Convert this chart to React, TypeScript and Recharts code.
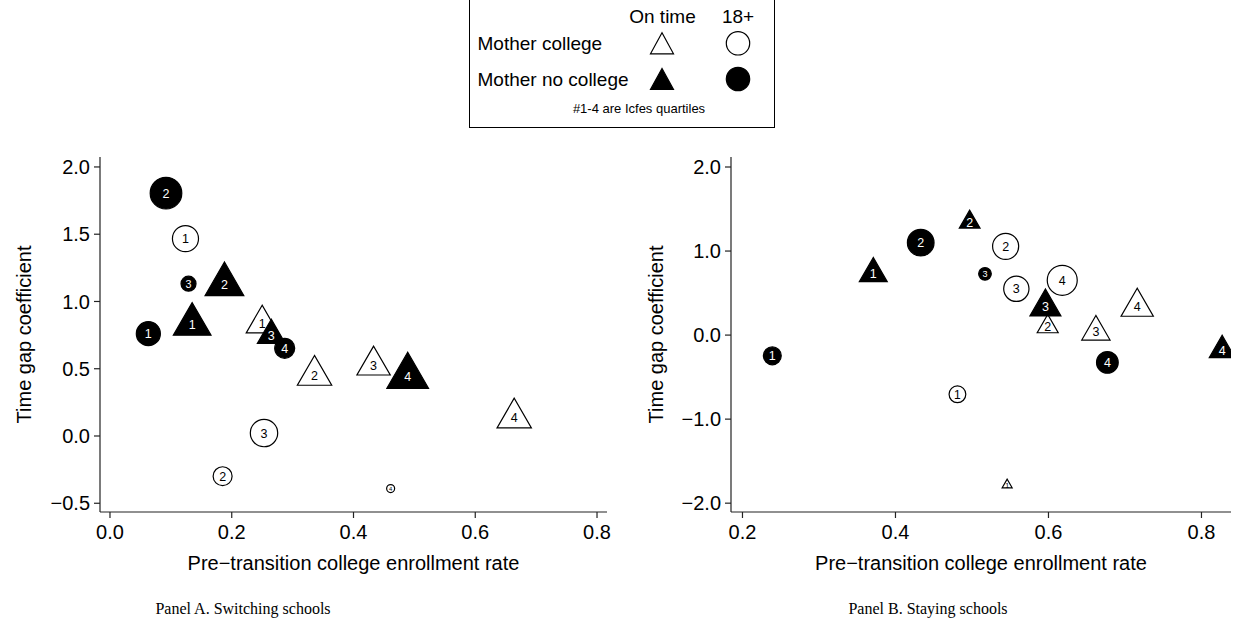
import React from 'react';
import { ScatterChart, Scatter, XAxis, YAxis } from 'recharts';

// ---------- DATA ----------
const quartiles = ['1', '2', '3', '4'];

// Panel A. Switching schools
const aCollegeOnTimeX = [0.25, 0.336, 0.433, 0.664];
const aCollegeOnTimeY = [0.835, 0.451, 0.525, 0.134];
const aCollegeOnTimeW = [10.2, 11.8, 11.1, 11.8];
const aNoCollegeOnTimeX = [0.135, 0.188, 0.265, 0.489];
const aNoCollegeOnTimeY = [0.83, 1.127, 0.748, 0.444];
const aNoCollegeOnTimeW = [14.2, 15.0, 7.8, 17.4];
const aCollegeLateX = [0.124, 0.185, 0.253, 0.461];
const aCollegeLateY = [1.467, -0.299, 0.022, -0.391];
const aCollegeLateW = [6.8, 3.6, 7.5, 0.64];
const aNoCollegeLateX = [0.063, 0.092, 0.129, 0.287];
const aNoCollegeLateY = [0.761, 1.805, 1.132, 0.652];
const aNoCollegeLateW = [5.8, 10.0, 2.25, 4.0];

// Panel B. Staying schools
const bCollegeOnTimeX = [0.546, 0.599, 0.662, 0.716];
const bCollegeOnTimeY = [-1.783, 0.1, 0.038, 0.335];
const bCollegeOnTimeW = [1.0, 4.4, 8.0, 10.4];
const bNoCollegeOnTimeX = [0.371, 0.497, 0.596, 0.827];
const bNoCollegeOnTimeY = [0.732, 1.344, 0.335, -0.179];
const bNoCollegeOnTimeW = [7.8, 4.3, 9.6, 6.6];
const bCollegeLateX = [0.481, 0.544, 0.558, 0.618];
const bCollegeLateY = [-0.705, 1.056, 0.551, 0.652];
const bCollegeLateW = [2.8, 6.8, 6.4, 9.0];
const bNoCollegeLateX = [0.239, 0.433, 0.517, 0.677];
const bNoCollegeLateY = [-0.247, 1.1, 0.729, -0.325];
const bNoCollegeLateW = [3.2, 7.1, 1.6, 4.7];

// Axis ticks
const aXTicks = [0, 0.2, 0.4, 0.6, 0.8];
const aYTicks = [-0.5, 0, 0.5, 1, 1.5, 2];
const bXTicks = [0.2, 0.4, 0.6, 0.8];
const bYTicks = [-2, -1, 0, 1, 2];

const xTitle = 'Pre\u2212transition college enrollment rate';
const yTitle = 'Time gap coefficient';

// ---------- helpers ----------
const build = (xs: number[], ys: number[], ws: number[]) =>
  xs.map((x, i) => ({ x, y: ys[i], w: ws[i], q: quartiles[i] }));

const SANS = '"Liberation Sans", Arial, Helvetica, sans-serif';
const SERIF = '"Liberation Serif", "Times New Roman", serif';

const fmt = (v: number) => (v < 0 ? '\u2212' + (-v).toFixed(1) : v.toFixed(1));

const makeShape = (kind: 'tri' | 'circ', filled: boolean) => (props: any) => {
  const { cx, cy, payload } = props;
  if (cx == null || cy == null) return <g />;
  const d = 10 * Math.sqrt(payload.w);
  const fs = Math.min(12.5, d * 0.72);
  const fill = filled ? '#000' : '#fff';
  const txt = filled ? '#fff' : '#000';
  let marker;
  if (kind === 'tri') {
    const h = d * 0.866;
    const pts = `${cx},${cy - (2 * h) / 3} ${cx - d / 2},${cy + h / 3} ${cx + d / 2},${cy + h / 3}`;
    marker = <polygon points={pts} fill={fill} stroke="#000" strokeWidth={1.2} strokeLinejoin="miter" />;
  } else {
    marker = <circle cx={cx} cy={cy} r={d / 2} fill={fill} stroke="#000" strokeWidth={1.2} />;
  }
  return (
    <g>
      {marker}
      <text
        x={cx}
        y={cy}
        dy="0.36em"
        textAnchor="middle"
        fontFamily={SANS}
        fontSize={fs}
        fill={txt}
      >
        {payload.q}
      </text>
    </g>
  );
};

const shapeWhiteTri = makeShape('tri', false);
const shapeBlackTri = makeShape('tri', true);
const shapeWhiteCirc = makeShape('circ', false);
const shapeBlackCirc = makeShape('circ', true);

const tickStyle = { fontSize: 20, fill: '#000', fontFamily: SANS };
const axisStroke = { stroke: '#222', strokeWidth: 1.2 };

interface PanelProps {
  left: number;
  width: number;
  yAxisWidth: number;
  right: number;
  xDomain: [number, number];
  yDomain: [number, number];
  xTicks: number[];
  yTicks: number[];
  series: { data: any[]; shape: any; name: string }[];
}

const Panel = (p: PanelProps) => (
  <div style={{ position: 'absolute', left: p.left, top: 0 }}>
    <ScatterChart
      width={p.width}
      height={636}
      margin={{ top: 157, right: p.right, bottom: 0, left: 0 }}
    >
      <XAxis
        type="number"
        dataKey="x"
        domain={p.xDomain}
        ticks={p.xTicks}
        allowDataOverflow
        height={124}
        tickFormatter={fmt}
        tick={tickStyle}
        tickSize={6}
        tickMargin={7}
        axisLine={axisStroke}
        tickLine={axisStroke}
      />
      <YAxis
        type="number"
        dataKey="y"
        domain={p.yDomain}
        ticks={p.yTicks}
        allowDataOverflow
        width={p.yAxisWidth}
        tickFormatter={fmt}
        tick={tickStyle}
        tickSize={6}
        tickMargin={4}
        axisLine={axisStroke}
        tickLine={axisStroke}
      />
      {p.series.map((s) => (
        <Scatter
          key={s.name}
          name={s.name}
          data={s.data}
          shape={s.shape}
          isAnimationActive={false}
        />
      ))}
    </ScatterChart>
  </div>
);

export default function App() {
  const aSeries = [
    { name: 'College on time', data: build(aCollegeOnTimeX, aCollegeOnTimeY, aCollegeOnTimeW), shape: shapeWhiteTri },
    { name: 'No college on time', data: build(aNoCollegeOnTimeX, aNoCollegeOnTimeY, aNoCollegeOnTimeW), shape: shapeBlackTri },
    { name: 'College 18+', data: build(aCollegeLateX, aCollegeLateY, aCollegeLateW), shape: shapeWhiteCirc },
    { name: 'No college 18+', data: build(aNoCollegeLateX, aNoCollegeLateY, aNoCollegeLateW), shape: shapeBlackCirc },
  ];
  const bSeries = [
    { name: 'College on time', data: build(bCollegeOnTimeX, bCollegeOnTimeY, bCollegeOnTimeW), shape: shapeWhiteTri },
    { name: 'No college on time', data: build(bNoCollegeOnTimeX, bNoCollegeOnTimeY, bNoCollegeOnTimeW), shape: shapeBlackTri },
    { name: 'College 18+', data: build(bCollegeLateX, bCollegeLateY, bCollegeLateW), shape: shapeWhiteCirc },
    { name: 'No college 18+', data: build(bNoCollegeLateX, bNoCollegeLateY, bNoCollegeLateW), shape: shapeBlackCirc },
  ];

  const legTri = (cx: number, cy: number, filled: boolean) => {
    const d = 23;
    const h = 21;
    return (
      <polygon
        points={`${cx},${cy - h / 2} ${cx - d / 2},${cy + h / 2} ${cx + d / 2},${cy + h / 2}`}
        fill={filled ? '#000' : '#fff'}
        stroke="#000"
        strokeWidth={1.2}
      />
    );
  };

  return (
    <div
      style={{
        position: 'absolute',
        left: 0,
        top: 0,
        width: 1235,
        height: 636,
        background: '#fff',
        overflow: 'hidden',
      }}
    >
      <Panel
        left={0}
        width={620}
        yAxisWidth={100}
        right={13}
        xDomain={[-0.0164, 0.8164]}
        yDomain={[-0.565, 2.074]}
        xTicks={aXTicks}
        yTicks={aYTicks}
        series={aSeries}
      />
      <Panel
        left={620}
        width={615}
        yAxisWidth={111}
        right={4}
        xDomain={[0.185, 0.8386]}
        yDomain={[-2.105, 2.119]}
        xTicks={bXTicks}
        yTicks={bYTicks}
        series={bSeries}
      />
      <svg
        width={1235}
        height={636}
        style={{ position: 'absolute', left: 0, top: 0, pointerEvents: 'none' }}
      >
        {/* Legend */}
        <rect x={469.5} y={-1} width={305} height={128.5} fill="#fff" stroke="#000" strokeWidth={1} />
        <g fontFamily={SANS} fontSize={19} fill="#000">
          <text x={662.5} y={22.5} textAnchor="middle">On time</text>
          <text x={738} y={22.5} textAnchor="middle">18+</text>
          <text x={477.5} y={50}>Mother college</text>
          <text x={477.5} y={85.5}>Mother no college</text>
        </g>
        {legTri(662, 43.3, false)}
        <circle cx={738} cy={43.3} r={11.7} fill="#fff" stroke="#000" strokeWidth={1.2} />
        {legTri(662, 79, true)}
        <circle cx={738} cy={79} r={11.7} fill="#000" stroke="#000" strokeWidth={1.2} />
        <text x={639} y={112.5} textAnchor="middle" fontFamily={SANS} fontSize={13} fill="#000">
          #1-4 are Icfes quartiles
        </text>

        {/* Axis titles */}
        <g fontFamily={SANS} fontSize={20} fill="#000">
          <text x={353.5} y={570} textAnchor="middle">{xTitle}</text>
          <text x={981} y={570} textAnchor="middle">{xTitle}</text>
          <text transform="translate(31,334.5) rotate(-90)" textAnchor="middle">{yTitle}</text>
          <text transform="translate(663,334.5) rotate(-90)" textAnchor="middle">{yTitle}</text>
        </g>

        {/* Panel captions */}
        <g fontFamily={SERIF} fontSize={16} fill="#000">
          <text x={243} y={614} textAnchor="middle">Panel A. Switching schools</text>
          <text x={928} y={614} textAnchor="middle">Panel B. Staying schools</text>
        </g>
      </svg>
    </div>
  );
}
